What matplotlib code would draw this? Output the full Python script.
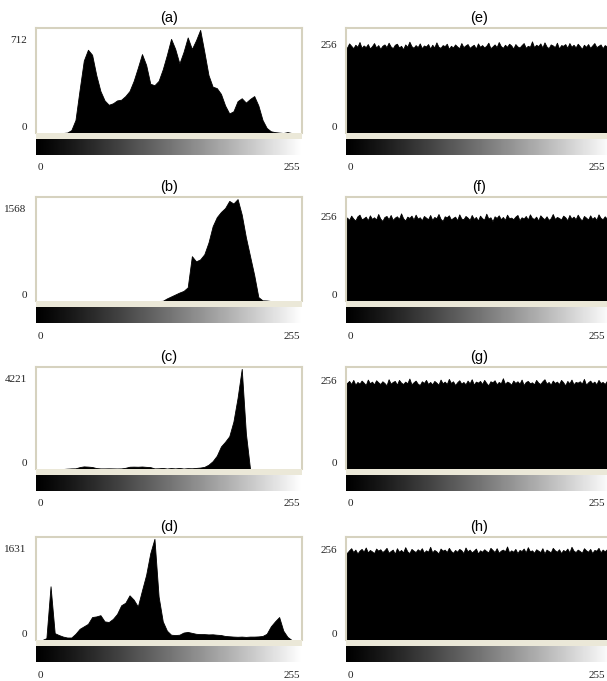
import numpy as np
import matplotlib.pyplot as plt

W, H = 607, 681

BORDER = '#d6d2bf'
STRIP = '#ebe8d8'

# 64 bins of 4 grey levels each
hist_a = [0, 0, 0, 0, 0, 0, 0, 3, 20, 90, 300, 500, 575, 540, 400, 290,
          225, 195, 205, 225, 230, 255, 290, 360, 450, 545, 470, 340, 330, 360, 440, 540,
          650, 580, 480, 560, 660, 580, 640, 712, 560, 400, 320, 310, 270, 190, 135, 150,
          220, 240, 210, 235, 255, 190, 90, 35, 12, 6, 3, 0, 6, 0, 0, 0]
hist_b = [0] * 30 + [3, 40, 70, 100, 130, 155, 210, 690, 610, 640, 720, 900, 1150, 1290, 1370, 1430,
                     1540, 1500, 1568, 1330, 980, 690, 400, 60, 10, 8, 0, 0, 0, 0, 0, 0, 0, 0]
hist_c = [0, 0, 0, 0, 0, 0, 0, 15, 25, 28, 80, 110, 100, 85, 40, 25,
          25, 28, 25, 22, 25, 50, 95, 100, 95, 105, 90, 80, 25, 30, 45, 20,
          40, 25, 45, 20, 35, 30, 45, 60, 90, 180, 330, 560, 950, 1150, 1380, 2000,
          3000, 4221, 1500, 0, 0, 0, 0, 0, 0, 0, 0, 0, 0, 0, 0, 0]
hist_d = [0, 0, 30, 866, 110, 80, 55, 40, 40, 100, 180, 220, 260, 370, 380, 400,
          300, 290, 340, 420, 560, 600, 720, 650, 540, 800, 1050, 1400, 1631, 700, 300, 150,
          85, 80, 85, 120, 130, 115, 100, 95, 95, 90, 92, 85, 80, 65, 60, 55,
          52, 55, 50, 55, 55, 58, 65, 100, 220, 300, 370, 150, 50, 0, 0, 0]

# 128 bins of 2 grey levels each for the flattened (encrypted) histograms
hist_e = [250, 262, 255, 248, 258, 252, 266, 249, 256, 251, 260, 247, 254, 263, 250, 257,
          246, 255, 259, 251, 264, 253, 248, 258, 261, 250, 255, 245, 259, 252, 267, 254,
          249, 257, 251, 262, 248, 256, 253, 260, 247, 258, 250, 265, 252, 249, 257, 254,
          261, 246, 255, 250, 259, 253, 248, 263, 251, 256, 260, 249, 254, 258, 247, 262,
          252, 257, 250, 255, 264, 248, 253, 259, 251, 266, 254, 249, 258, 252, 261, 256,
          247, 260, 253, 250, 257, 263, 249, 255, 252, 268, 251, 258, 254, 262, 250, 265,
          253, 248, 259, 256, 251, 264, 247, 257, 255, 260, 249, 263, 252, 258, 250, 261,
          254, 246, 258, 252, 260, 249, 256, 263, 251, 255, 259, 248, 257, 253, 262, 250]
hist_f = [255, 248, 261, 252, 246, 259, 264, 250, 253, 258, 247, 262, 251, 256, 249, 266,
          252, 245, 257, 260, 250, 263, 248, 255, 259, 251, 268, 253, 246, 258, 254, 261,
          249, 264, 252, 256, 247, 260, 255, 250, 263, 248, 257, 253, 266, 251, 245, 259,
          256, 262, 249, 254, 258, 247, 265, 252, 250, 260, 255, 248, 263, 251, 257, 246,
          261, 253, 249, 267, 252, 256, 244, 259, 254, 262, 250, 257, 248, 264, 253, 255,
          250, 258, 263, 247, 256, 252, 260, 249, 265, 254, 251, 258, 246, 262, 255, 250,
          259, 248, 253, 266, 251, 257, 254, 249, 261, 256, 247, 263, 252, 258, 250, 264,
          253, 246, 260, 255, 249, 262, 251, 257, 248, 265, 254, 250, 259, 252, 261, 256]
hist_g = [253, 259, 250, 262, 248, 256, 251, 260, 254, 247, 263, 252, 257, 249, 261, 255,
          250, 258, 253, 246, 264, 251, 256, 259, 248, 262, 254, 250, 257, 252, 266, 249,
          255, 260, 251, 247, 258, 253, 262, 250, 256, 249, 259, 254, 248, 263, 252, 257,
          250, 265, 253, 258, 247, 255, 261, 251, 256, 249, 260, 252, 264, 248, 257, 254,
          259, 250, 262, 253, 246, 258, 255, 261, 249, 256, 252, 267, 250, 257, 254, 248,
          260, 253, 258, 251, 263, 247, 256, 259, 252, 255, 249, 262, 254, 250, 258, 264,
          251, 256, 248, 260, 253, 257, 250, 262, 255, 246, 259, 252, 263, 249, 256, 254,
          258, 251, 265, 248, 255, 260, 252, 257, 249, 262, 253, 256, 250, 259, 254, 261]
hist_h = [249, 256, 262, 251, 258, 247, 255, 260, 252, 264, 250, 257, 253, 248, 261, 255,
          259, 251, 256, 263, 249, 254, 258, 246, 262, 252, 257, 250, 265, 253, 248, 260,
          255, 251, 259, 254, 262, 249, 256, 252, 266, 250, 257, 253, 247, 261, 255, 258,
          251, 263, 254, 249, 257, 252, 260, 256, 248, 264, 253, 258, 250, 255, 261, 247,
          256, 252, 259, 254, 250, 263, 257, 251, 262, 249, 255, 258, 253, 267, 250, 256,
          252, 260, 248, 257, 254, 261, 250, 265, 253, 256, 249, 259, 255, 251, 262, 247,
          258, 254, 250, 263, 256, 252, 259, 248, 257, 253, 261, 250, 266, 255, 251, 258,
          254, 249, 262, 256, 252, 260, 248, 257, 255, 263, 250, 258, 253, 259, 251, 256]

panel_labels = ['(a)', '(b)', '(c)', '(d)', '(e)', '(f)', '(g)', '(h)']
panel_hists = [hist_a, hist_b, hist_c, hist_d, hist_e, hist_f, hist_g, hist_h]
top_labels = ['712', '1568', '4221', '1631', '256', '256', '256', '256']
top_values = [712, 1568, 4221, 1631, 256, 256, 256, 256]
ylim_tops = [725, 1600, 4300, 1660, 307, 318, 300, 294]

row_tops = [28, 197, 367, 537]
row_bases = [133, 301, 469, 640]
col_lefts = [36, 346]
BOX_W = 266


def px_axes(fig, x0, y0, x1, y1):
    return fig.add_axes([x0 / W, 1 - y1 / H, (x1 - x0) / W, (y1 - y0) / H])


fig = plt.figure(figsize=(W / 100, H / 100), dpi=100)
fig.patch.set_facecolor('white')

ramp = np.linspace(0, 1, 256) ** 1.15
ramp = np.vstack([ramp, ramp])

for i, (lab, hist) in enumerate(zip(panel_labels, panel_hists)):
    col, row = divmod(i, 4)
    x0 = col_lefts[col]
    x1 = x0 + BOX_W
    top, base = row_tops[row], row_bases[row]

    ax = px_axes(fig, x0, top, x1, base)
    width = 256 / len(hist)
    centers = np.arange(len(hist)) * width + width / 2
    # right-hand histograms cover the whole grey range edge to edge
    if col == 1:
        xs = np.concatenate([[0], centers, [256]])
        ys = np.concatenate([[hist[0]], hist, [hist[-1]]])
    else:
        xs, ys = centers, np.asarray(hist)
    ax.fill_between(xs, 0, ys, color='black', lw=0.6, edgecolor='black')
    ax.set_xlim(0, 256)
    ax.set_ylim(0, ylim_tops[i])
    ax.set_xticks([])
    ax.set_yticks([])
    for side, sp in ax.spines.items():
        sp.set_color(BORDER)
        sp.set_linewidth(1.5)
    ax.spines['bottom'].set_visible(False)

    ax.set_title(lab, fontsize=10.5, family='Liberation Sans', pad=4)

    # value labels left of the box
    y_top = top_values[i] / ylim_tops[i]
    if col == 0:
        y_top = 0.88
    ax.text(-0.035, y_top, top_labels[i], transform=ax.transAxes, ha='right', va='center',
            fontsize=8, family='Liberation Serif', color='#222222')
    ax.text(-0.035, 0.05, '0', transform=ax.transAxes, ha='right', va='center',
            fontsize=8, family='Liberation Serif', color='#222222')

    # grey level strip below the histogram
    gx = px_axes(fig, x0, base, x1, base + 22)
    gx.set_facecolor(STRIP)
    gx.imshow(ramp, cmap='gray', aspect='auto', extent=(0, 256, 0, 0.75),
              interpolation='bilinear')
    gx.set_xlim(0, 256)
    gx.set_ylim(0, 1)
    gx.axis('off')
    gx.add_patch(plt.Rectangle((0, 0.75), 256, 0.25, color=STRIP, lw=0))

    right_px = min(x0 + BOX_W - 2, W - 2)
    fig.text((x0 + 2) / W, 1 - (base + 35) / H, '0', ha='left', va='center',
             fontsize=8, family='Liberation Serif', color='#222222')
    fig.text(right_px / W, 1 - (base + 35) / H, '255', ha='right', va='center',
             fontsize=8, family='Liberation Serif', color='#222222')

fig.savefig('out.png', dpi=100, facecolor='white')
